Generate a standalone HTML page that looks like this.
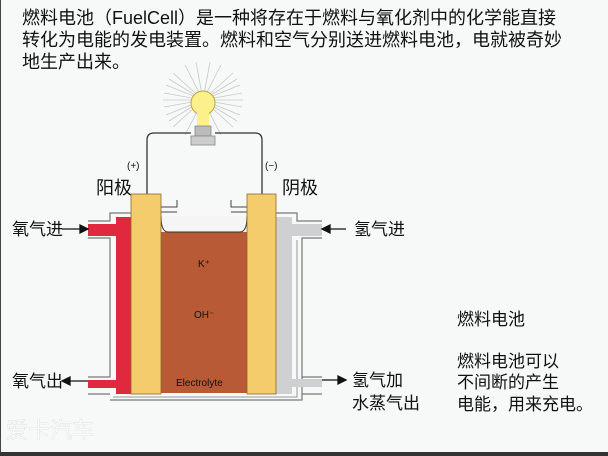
<!DOCTYPE html>
<html><head><meta charset="utf-8"><style>
html,body{margin:0;padding:0;background:#f7f8f8;}
svg{display:block}
text{font-family:"Liberation Sans","Noto Sans CJK SC",sans-serif;fill:#111;}
</style></head><body>
<svg width="608" height="456" viewBox="0 0 608 456" xmlns="http://www.w3.org/2000/svg">
<rect width="608" height="456" fill="#f7f8f8"/>
<line x1="0.5" y1="0" x2="0.5" y2="456" stroke="#444" stroke-width="1"/>
<rect x="0" y="452" width="608" height="4" fill="#333"/>
<g font-size="18">
<text x="22" y="24">燃料电池（FuelCell）是一种将存在于燃料与氧化剂中的化学能直接</text>
<text x="22" y="46">转化为电能的发电装置。燃料和空气分别送进燃料电池，电就被奇妙</text>
<text x="22" y="68">地生产出来。</text>
</g>
<g stroke="#c8c8c8" stroke-width="0.8">
<line x1="163" y1="100" x2="243" y2="100"/><line x1="166" y1="85" x2="240" y2="115"/>
<line x1="166" y1="115" x2="240" y2="85"/><line x1="173" y1="73" x2="233" y2="127"/>
<line x1="173" y1="127" x2="233" y2="73"/><line x1="185" y1="65" x2="221" y2="135"/>
<line x1="221" y1="65" x2="185" y2="135"/><line x1="196" y1="62" x2="210" y2="138"/>
<line x1="210" y1="62" x2="196" y2="138"/><line x1="164" y1="93" x2="242" y2="107"/>
<line x1="164" y1="107" x2="242" y2="93"/><line x1="169" y1="79" x2="237" y2="121"/>
<line x1="169" y1="121" x2="237" y2="79"/>
</g>
<circle cx="203" cy="103" r="12" fill="#fbf08a" stroke="#b8a840" stroke-width="1"/>
<rect x="197" y="110" width="12" height="18" fill="#fbf08a"/>
<rect x="195" y="126" width="16" height="10" fill="#bbb" stroke="#888" stroke-width="0.8"/>
<rect x="191" y="136" width="24" height="9" fill="#ccc" stroke="#888" stroke-width="0.8"/>
<path d="M147 194 V140 Q147 133 154 133 H191 M215 133 H255 Q262 133 262 140 V194" fill="none" stroke="#333" stroke-width="1.3"/>
<text x="127" y="169" font-size="10">(+)</text>
<text x="265" y="169" font-size="10">(−)</text>
<text x="96" y="194" font-size="18">阳极</text>
<text x="282" y="194" font-size="18">阴极</text>
<path d="M110 400 H302 V238 H322 M322 221 H297 V213 H276 M131 213 H110 V221 H88 M88 238 H110 V377 H88 M88 394 H110" fill="none" stroke="#777" stroke-width="1.2"/>
<path d="M302 377 H322 M322 394 H302" fill="none" stroke="#777" stroke-width="1.2"/>
<path d="M113 397 H297 V240" fill="none" stroke="#999" stroke-width="1"/>
<rect x="116" y="217" width="15" height="177" fill="#e0283f"/>
<rect x="88" y="224" width="28" height="12" fill="#e0283f"/>
<rect x="88" y="380" width="28" height="8" fill="#e0283f"/>
<rect x="276" y="217" width="16" height="177" fill="#cfd0d2"/>
<rect x="292" y="224" width="30" height="12" fill="#cfd0d2"/>
<rect x="292" y="379" width="30" height="8" fill="#cfd0d2"/>
<path d="M161 232 H247 V393 H161 Z" fill="#b85a35"/>
<path d="M161 216 Q161 232 168 232 H240 Q247 232 247 216" fill="#f5f5f5" stroke="#333" stroke-width="1"/>
<path d="M161 207 H177 V200 M161 212 H177 M247 207 H231 V200 M247 212 H231" fill="none" stroke="#444" stroke-width="1"/>
<rect x="131" y="194" width="30" height="200" fill="#f5cc6c" stroke="#8a6a2a" stroke-width="0.8"/>
<rect x="247" y="194" width="29" height="200" fill="#f5cc6c" stroke="#8a6a2a" stroke-width="0.8"/>
<text x="198" y="267" font-size="10">K⁺</text>
<text x="194" y="318" font-size="10">OH⁻</text>
<text x="176" y="386" font-size="10">Electrolyte</text>
<g stroke="#111" stroke-width="1.3" fill="#111">
<line x1="62" y1="229" x2="82" y2="229"/><polygon points="88,229 80,225 80,233"/>
<line x1="68" y1="381" x2="88" y2="381"/><polygon points="62,381 70,377 70,385"/>
<line x1="328" y1="229" x2="346" y2="229"/><polygon points="322,229 330,225 330,233"/>
<line x1="322" y1="380" x2="340" y2="380"/><polygon points="346,380 338,376 338,384"/>
</g>
<g font-size="17">
<text x="12" y="235">氧气进</text>
<text x="12" y="387">氧气出</text>
<text x="354" y="235">氢气进</text>
<text x="352" y="386">氢气加</text>
<text x="352" y="409">水蒸气出</text>
<text x="457" y="325">燃料电池</text>
<text x="457" y="367">燃料电池可以</text>
<text x="457" y="388">不间断的产生</text>
<text x="457" y="410">电能，用来充电。</text>
</g>
<text x="6" y="438" font-size="22" style="fill:#ffffff" stroke="#e4e4e4" stroke-width="0.6">爱卡汽车</text>
</svg>
</body></html>
